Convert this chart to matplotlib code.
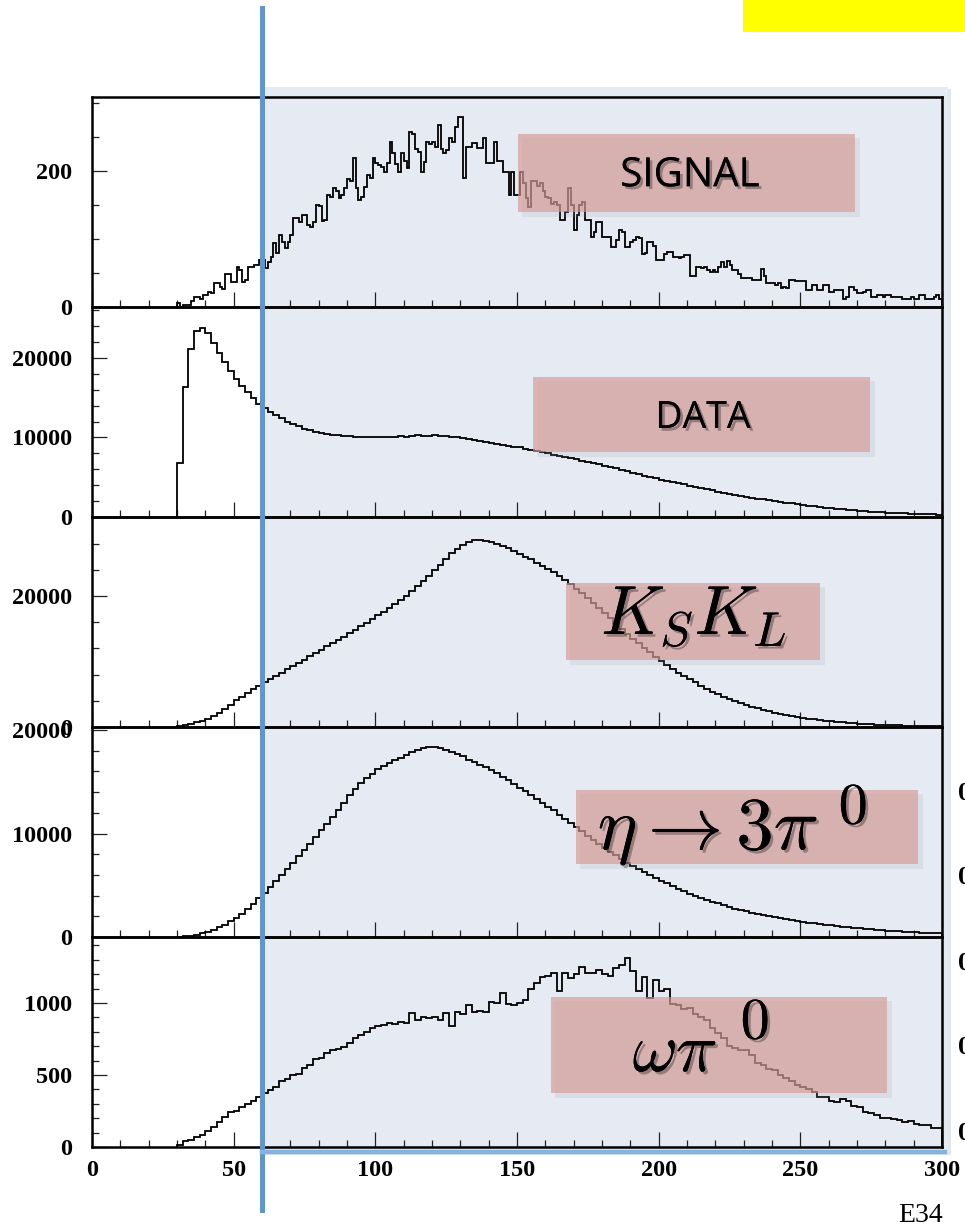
import numpy as np
import matplotlib
matplotlib.use('Agg')
import matplotlib.pyplot as plt
from matplotlib.patches import Rectangle
from matplotlib.lines import Line2D
from matplotlib.ticker import MultipleLocator
import matplotlib.patheffects as pe

plt.rcParams['mathtext.fontset'] = 'cm'

# ---------------- data ----------------
signal_edges = np.arange(30, 301, 1)
bin_edges = np.arange(30, 301, 2)

signal = [6, 0, 3, 3, 3, 9, 15, 15, 12, 17,
          17, 22, 20, 35, 35, 30, 27, 49, 49, 37,
          37, 59, 55, 37, 40, 59, 59, 62, 62, 69,
          69, 57, 66, 73, 94, 80, 106, 96, 87, 95,
          106, 131, 131, 125, 135, 135, 120, 118, 125, 150,
          148, 127, 128, 165, 162, 175, 170, 160, 165, 175,
          189, 186, 219, 175, 157, 162, 176, 194, 190, 219,
          212, 209, 206, 199, 212, 243, 226, 210, 199, 226,
          215, 205, 258, 255, 233, 228, 199, 214, 243, 240,
          243, 236, 268, 233, 226, 231, 249, 243, 265, 280,
          280, 190, 236, 236, 241, 241, 234, 234, 248, 212,
          212, 212, 243, 215, 215, 199, 199, 165, 199, 165,
          165, 199, 182, 160, 147, 185, 185, 178, 182, 170,
          162, 160, 152, 155, 150, 128, 128, 140, 175, 150,
          113, 135, 150, 155, 128, 128, 103, 110, 125, 125,
          103, 103, 103, 89, 89, 98, 113, 110, 89, 89,
          96, 98, 103, 101, 78, 80, 95, 95, 90, 69,
          69, 69, 78, 81, 81, 74, 74, 72, 74, 76,
          76, 45, 45, 59, 59, 57, 59, 55, 52, 54,
          52, 59, 66, 59, 67, 62, 54, 54, 48, 42,
          42, 42, 42, 40, 40, 40, 56, 45, 35, 35,
          35, 32, 35, 28, 30, 28, 40, 40, 38, 38,
          38, 38, 25, 25, 32, 32, 25, 25, 32, 32,
          22, 22, 25, 25, 25, 12, 14, 30, 30, 25,
          20, 20, 22, 25, 25, 15, 15, 18, 18, 15,
          18, 18, 15, 15, 15, 15, 12, 12, 12, 14,
          12, 12, 18, 18, 12, 12, 12, 15, 18, 12]

data = [6800, 16300, 21100, 23400, 23700, 23100, 21900, 20600, 19500, 18400,
        17400, 16500, 15700, 14900, 14200, 13700, 13200, 12800, 12400, 12000,
        11700, 11400, 11100, 10900, 10700, 10550, 10450, 10350, 10300, 10200,
        10150, 10100, 10050, 10000, 10000, 10000, 10050, 10050, 10100, 10150,
        10100, 10150, 10250, 10150, 10200, 10250, 10150, 10150, 10100, 10050,
        9900, 9800, 9700, 9600, 9450, 9300, 9150, 9050, 8950, 8850,
        8750, 8600, 8450, 8300, 8150, 8000, 7850, 7700, 7550, 7400,
        7250, 7100, 6950, 6800, 6600, 6450, 6250, 6100, 5900, 5750,
        5550, 5400, 5200, 5050, 4850, 4700, 4550, 4400, 4250, 4100,
        3950, 3800, 3650, 3500, 3350, 3200, 3050, 2950, 2800, 2700,
        2550, 2450, 2300, 2200, 2100, 2000, 1900, 1800, 1700, 1600,
        1500, 1420, 1340, 1260, 1180, 1100, 1030, 960, 900, 840,
        780, 730, 680, 630, 590, 550, 510, 480, 450, 420,
        390, 360, 340, 320, 300]

kskl = [80, 250, 450, 700, 950, 1250, 1650, 2150, 2750, 3400,
        4100, 4650, 5200, 5750, 6300, 6800, 7300, 7800, 8300, 8800,
        9300, 9800, 10300, 10800, 11300, 11800, 12300, 12800, 13300, 13800,
        14300, 14850, 15400, 15950, 16500, 17050, 17600, 18150, 18750, 19350,
        20000, 20700, 21500, 22300, 23100, 23900, 24800, 25700, 26500, 27200,
        27800, 28300, 28600, 28600, 28400, 28200, 27900, 27600, 27300, 26900,
        26400, 26000, 25600, 25100, 24600, 24100, 23600, 23000, 22400, 21800,
        21100, 20400, 19700, 19000, 18200, 17400, 16600, 15800, 15000, 14200,
        13500, 12800, 12100, 11400, 10700, 10100, 9500, 8900, 8300, 7800,
        7300, 6800, 6300, 5850, 5400, 5000, 4650, 4300, 3950, 3650,
        3350, 3100, 2850, 2600, 2400, 2200, 2000, 1850, 1700, 1550,
        1400, 1280, 1160, 1050, 950, 860, 780, 700, 630, 570,
        510, 460, 410, 370, 330, 300, 270, 240, 215, 195,
        175, 160, 145, 130, 120]

eta = [20, 60, 120, 220, 350, 500, 700, 950, 1200, 1500,
       1850, 2250, 2700, 3200, 3750, 4300, 4850, 5400, 6000, 6600,
       7200, 7800, 8400, 9000, 9700, 10300, 10950, 11600, 12300, 13000,
       13700, 14300, 14850, 15350, 15800, 16200, 16550, 16850, 17100, 17350,
       17600, 17850, 18050, 18250, 18350, 18350, 18250, 18100, 17900, 17700,
       17450, 17150, 16900, 16650, 16400, 16100, 15850, 15500, 15150, 14800,
       14450, 14100, 13700, 13300, 12950, 12600, 12250, 11800, 11400, 11000,
       10600, 10200, 9800, 9400, 8950, 8600, 8250, 7900, 7550, 7200,
       6900, 6600, 6300, 6000, 5700, 5450, 5200, 4900, 4650, 4400,
       4200, 4000, 3800, 3600, 3400, 3250, 3100, 2900, 2750, 2600,
       2480, 2350, 2250, 2130, 2020, 1920, 1820, 1730, 1640, 1550,
       1460, 1390, 1320, 1250, 1180, 1120, 1060, 1000, 950, 900,
       850, 800, 750, 700, 660, 620, 580, 550, 510, 480,
       450, 420, 400, 380, 350]

omega = [14, 40, 50, 70, 85, 110, 140, 175, 205, 240,
         250, 275, 300, 320, 350, 375, 395, 420, 455, 470,
         500, 510, 550, 570, 610, 620, 650, 675, 680, 695,
         720, 760, 780, 800, 825, 840, 850, 860, 855, 870,
         860, 930, 880, 900, 895, 905, 880, 930, 840, 940,
         920, 985, 940, 945, 940, 1010, 1000, 1070, 990, 985,
         1000, 1020, 1100, 1140, 1180, 1185, 1210, 1080, 1205, 1170,
         1200, 1250, 1205, 1210, 1230, 1200, 1185, 1240, 1265, 1310,
         1220, 1080, 1180, 1035, 1160, 1080, 1100, 990, 985, 960,
         965, 920, 905, 880, 825, 790, 760, 700, 690, 675,
         670, 640, 585, 570, 540, 535, 500, 480, 460, 430,
         420, 400, 380, 350, 345, 320, 315, 330, 320, 285,
         280, 240, 235, 220, 200, 200, 195, 185, 175, 180,
         160, 150, 155, 135, 130]

series = [signal, data, kskl, eta, omega]
edges = [signal_edges, bin_edges, bin_edges, bin_edges, bin_edges]
labels = ['SIGNAL', 'DATA', r'$K_SK_L$', r'$\eta\rightarrow 3\pi$', r'$\omega\pi$']
label_sup = ['', '', '', '0', '0']
y_top = [309, 26400, 32060, 20300, 1458]
y_major = [200, 10000, 20000, 10000, 500]
y_minor = [50, 2000, 4000, 2000, 100]
x_ticks = [0, 50, 100, 150, 200, 250, 300]
x_tick_labels = ['0', '50', '100', '150', '200', '250', '300']
cut_value = 60
footer = 'E34'

# ---------------- layout ----------------
W, H = 965, 1231
fig = plt.figure(figsize=(W / 100, H / 100), dpi=100)


def fx(px):
    return px / W


def fy(py):
    return 1 - py / H


def frect(x0, y0, x1, y1, **kw):
    r = Rectangle((fx(x0), fy(y1)), fx(x1) - fx(x0), fy(y0) - fy(y1),
                  transform=fig.transFigure, **kw)
    fig.patches.append(r)
    return r


# shaded region and yellow tag
frect(265, 89, 951, 1155, facecolor='#e1e5ec', edgecolor='none', zorder=-3)
frect(262, 87, 948, 1152, facecolor='#e6ebf3', edgecolor='none', zorder=-2)
frect(743, 0, 965, 32, facecolor='#ffff00', edgecolor='none', zorder=-2)

left_px, right_px = 92, 942
bounds = [97, 307, 517, 727, 937, 1147]
tick_font = dict(family='Liberation Serif', weight='bold', size=17.5)

axes = []
for i in range(5):
    top, bot = bounds[i], bounds[i + 1]
    ax = fig.add_axes([fx(left_px), fy(bot), fx(right_px) - fx(left_px), fy(top) - fy(bot)])
    ax.set_facecolor('none')
    ax.stairs(series[i], edges[i], baseline=0, color='black', linewidth=1.3, zorder=2)
    ax.set_xlim(0, 300)
    ax.xaxis.set_major_locator(MultipleLocator(50))
    ax.xaxis.set_minor_locator(MultipleLocator(10))
    ax.yaxis.set_minor_locator(MultipleLocator(y_minor[i]))
    yt = list(range(0, int(y_top[i]) + 1, y_major[i]))
    ax.set_yticks(yt)
    ax.set_yticklabels([str(v) for v in yt], **tick_font)
    ax.set_ylim(0, y_top[i])
    ax.tick_params(which='both', direction='in', top=False, right=False, width=0.9, color='#222222')
    ax.tick_params(which='major', length=10.5)
    ax.tick_params(which='minor', length=5)
    ax.tick_params(axis='y', which='major', pad=14)
    ax.tick_params(axis='x', which='major', pad=9)
    for s in ax.spines.values():
        s.set_linewidth(1.8)
    ax.set_xticks(x_ticks)
    if i < 4:
        ax.set_xticklabels([])
    else:
        ax.set_xticklabels(x_tick_labels, **tick_font)
    axes.append(ax)

# label boxes
boxes = [(518, 134, 855, 212), (533, 377, 870, 452), (566, 583, 820, 660),
         (576, 790, 918, 864), (551, 997, 887, 1093)]
text_pos = [(690, 176), (703, 418), (694, 616), (708, 831), (675, 1052)]
text_size = [29, 27, 50, 54, 50]
sup_pos = [None, None, None, (853, 807), (755, 1022)]
sup_size = [0, 0, 0, 42, 42]
shadow = [pe.withSimplePatchShadow(offset=(2, -2), shadow_rgbFace='k', alpha=0.3), pe.Normal()]
for i, ((x0, y0, x1, y1), (tx, ty), lab, sz) in enumerate(zip(boxes, text_pos, labels, text_size)):
    frect(x0 + 4, y0 + 4, x1 + 5, y1 + 5, facecolor='#9a9aa0', alpha=0.16, edgecolor='none', zorder=4)
    frect(x0, y0, x1, y1, facecolor=(0.84, 0.60, 0.58), alpha=0.65, edgecolor='none', zorder=5)
    kw = dict(ha='center', va='center', fontsize=sz, color='black', zorder=6,
              transform=fig.transFigure, path_effects=shadow)
    if not lab.startswith('$'):
        kw['family'] = 'Open Sans'
    fig.text(fx(tx), fy(ty), lab, **kw)
    if label_sup[i]:
        sx, sy = sup_pos[i]
        fig.text(fx(sx), fy(sy), '$' + label_sup[i] + '$', ha='center', va='center',
                 fontsize=sup_size[i], color='black', zorder=6,
                 transform=fig.transFigure, path_effects=shadow)

# cut line (blue) at x = cut_value
ax0 = axes[0]
xc = ax0.transData.transform((cut_value, 0))[0]
xc_fig = fig.transFigure.inverted().transform((xc, 0))[0]
fig.lines.append(Line2D([xc_fig, xc_fig], [fy(8), fy(1210)], transform=fig.transFigure,
                        color='#6096cc', linewidth=3.6, zorder=7))
fig.lines.append(Line2D([xc_fig, fx(945)], [fy(1152), fy(1152)], transform=fig.transFigure,
                        color='#86b2e0', linewidth=3.2, zorder=7))

# cut-off labels at the right edge
for py in [793, 878, 963, 1048, 1133]:
    fig.text(fx(958), fy(py), '0', ha='left', va='center', transform=fig.transFigure,
             family='Liberation Serif', weight='bold', size=19)

fig.text(fx(921), fy(1216), footer, ha='center', va='center', transform=fig.transFigure,
         family='Liberation Serif', size=20)

fig.savefig('out.png', dpi=100)
